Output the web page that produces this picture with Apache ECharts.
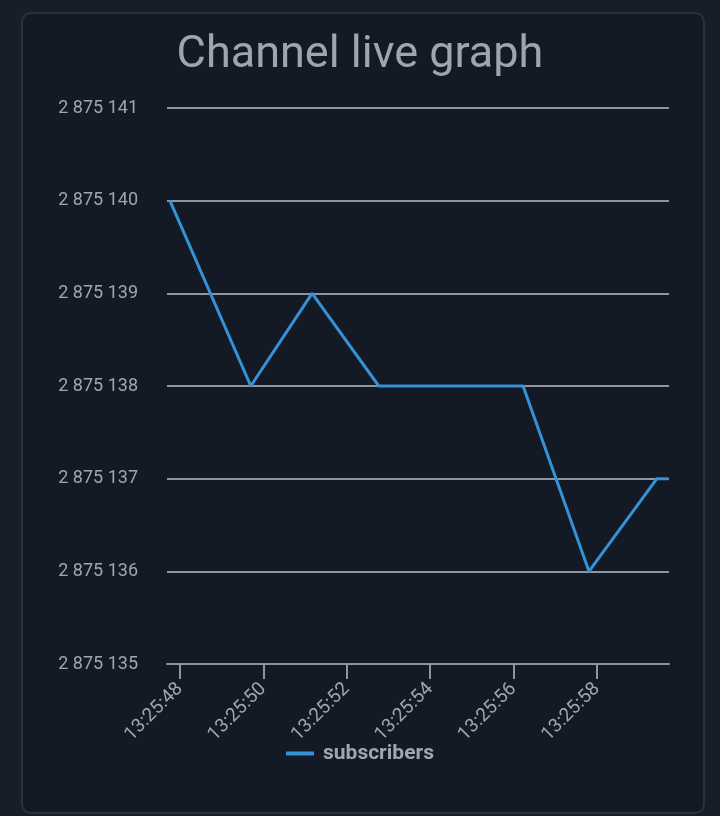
<!DOCTYPE html>
<html>
<head>
<meta charset="utf-8">
<script src="https://cdn.jsdelivr.net/npm/echarts@6/dist/echarts.min.js"></script>
<style>
  html, body { margin: 0; padding: 0; background: #161e2a; }
  #card {
    position: absolute; left: 21px; top: 12px; width: 680px; height: 798px;
    background: #131a25; border: 2px solid #29323f; border-radius: 10px;
  }
  #liveGraph { position: absolute; left: 0; top: 0; width: 720px; height: 816px; }
</style>
</head>
<body>
<div id="card"></div>
<div id="liveGraph"></div>
<script>
// sample times of the subscriber counter
var sampleTimes = ['13:25:47.76', '13:25:49.70', '13:25:51.17', '13:25:52.77', '13:25:54.50', '13:25:56.23', '13:25:57.81', '13:25:59.44', '13:25:59.72'];
var subscribers = [2875140, 2875138, 2875139, 2875138, 2875138, 2875138, 2875136, 2875137, 2875137];
var tickTimes = ['13:25:48', '13:25:50', '13:25:52', '13:25:54', '13:25:56', '13:25:58'];
var axisStart = '13:25:47.69';
var axisEnd = '13:25:59.73';

// time string -> seconds since midnight
function toSec(t) {
    var p = t.split(':');
    return (+p[0]) * 3600 + (+p[1]) * 60 + parseFloat(p[2]);
}

function toClock(s) {
    var pad = function (n) { return (n < 10 ? '0' : '') + n; };
    s = Math.round(s);
    return pad(Math.floor(s / 3600)) + ':' + pad(Math.floor(s / 60) % 60) + ':' + pad(s % 60);
}

function spaced(v) {
    return String(v).replace(/\B(?=(\d{3})+(?!\d))/g, ' ');
}

var myChart = echarts.init(document.getElementById('liveGraph'));
var textColor = '#a0a6b0';
var gridColor = '#8f959e';
var tickValues = tickTimes.map(toSec);

const option = {
    backgroundColor: 'transparent',
    textStyle: { fontFamily: 'Roboto' },
    title: {
        text: 'Channel live graph',
        left: 'center',
        top: 28,
        textStyle: { color: '#9fa5af', fontSize: 45, fontWeight: 'normal', fontFamily: 'Roboto' }
    },
    legend: {
        data: ['subscribers'],
        left: 'center',
        top: 738,
        icon: 'rect',
        itemWidth: 28,
        itemHeight: 4,
        textStyle: { color: textColor, fontSize: 21, fontWeight: 'bold', fontFamily: 'Roboto', padding: [0, 0, 0, 4] }
    },
    grid: { left: 167, right: 51, top: 108, bottom: 152, containLabel: false },
    xAxis: {
        type: 'value',
        min: toSec(axisStart),
        max: toSec(axisEnd),
        axisLine: { lineStyle: { color: gridColor, width: 2 } },
        axisTick: { show: true, length: 15, customValues: tickValues, lineStyle: { color: gridColor, width: 2 } },
        splitLine: { show: false },
        axisLabel: {
            rotate: 45,
            margin: 22,
            color: textColor,
            fontSize: 19,
            customValues: tickValues,
            formatter: toClock
        }
    },
    yAxis: {
        type: 'value',
        min: 2875135,
        max: 2875141,
        interval: 1,
        axisLine: { show: false },
        axisTick: { show: false },
        splitLine: { lineStyle: { color: gridColor, width: 2 } },
        axisLabel: { color: textColor, fontSize: 18, margin: 29, formatter: spaced }
    },
    series: [
        {
            name: 'subscribers',
            type: 'line',
            showSymbol: false,
            symbol: 'none',
            color: '#3392d8',
            lineStyle: { width: 3, color: '#3392d8' },
            data: sampleTimes.map(function (t, i) { return [toSec(t), subscribers[i]]; })
        }
    ]
};

myChart.setOption(option);
</script>
</body>
</html>
